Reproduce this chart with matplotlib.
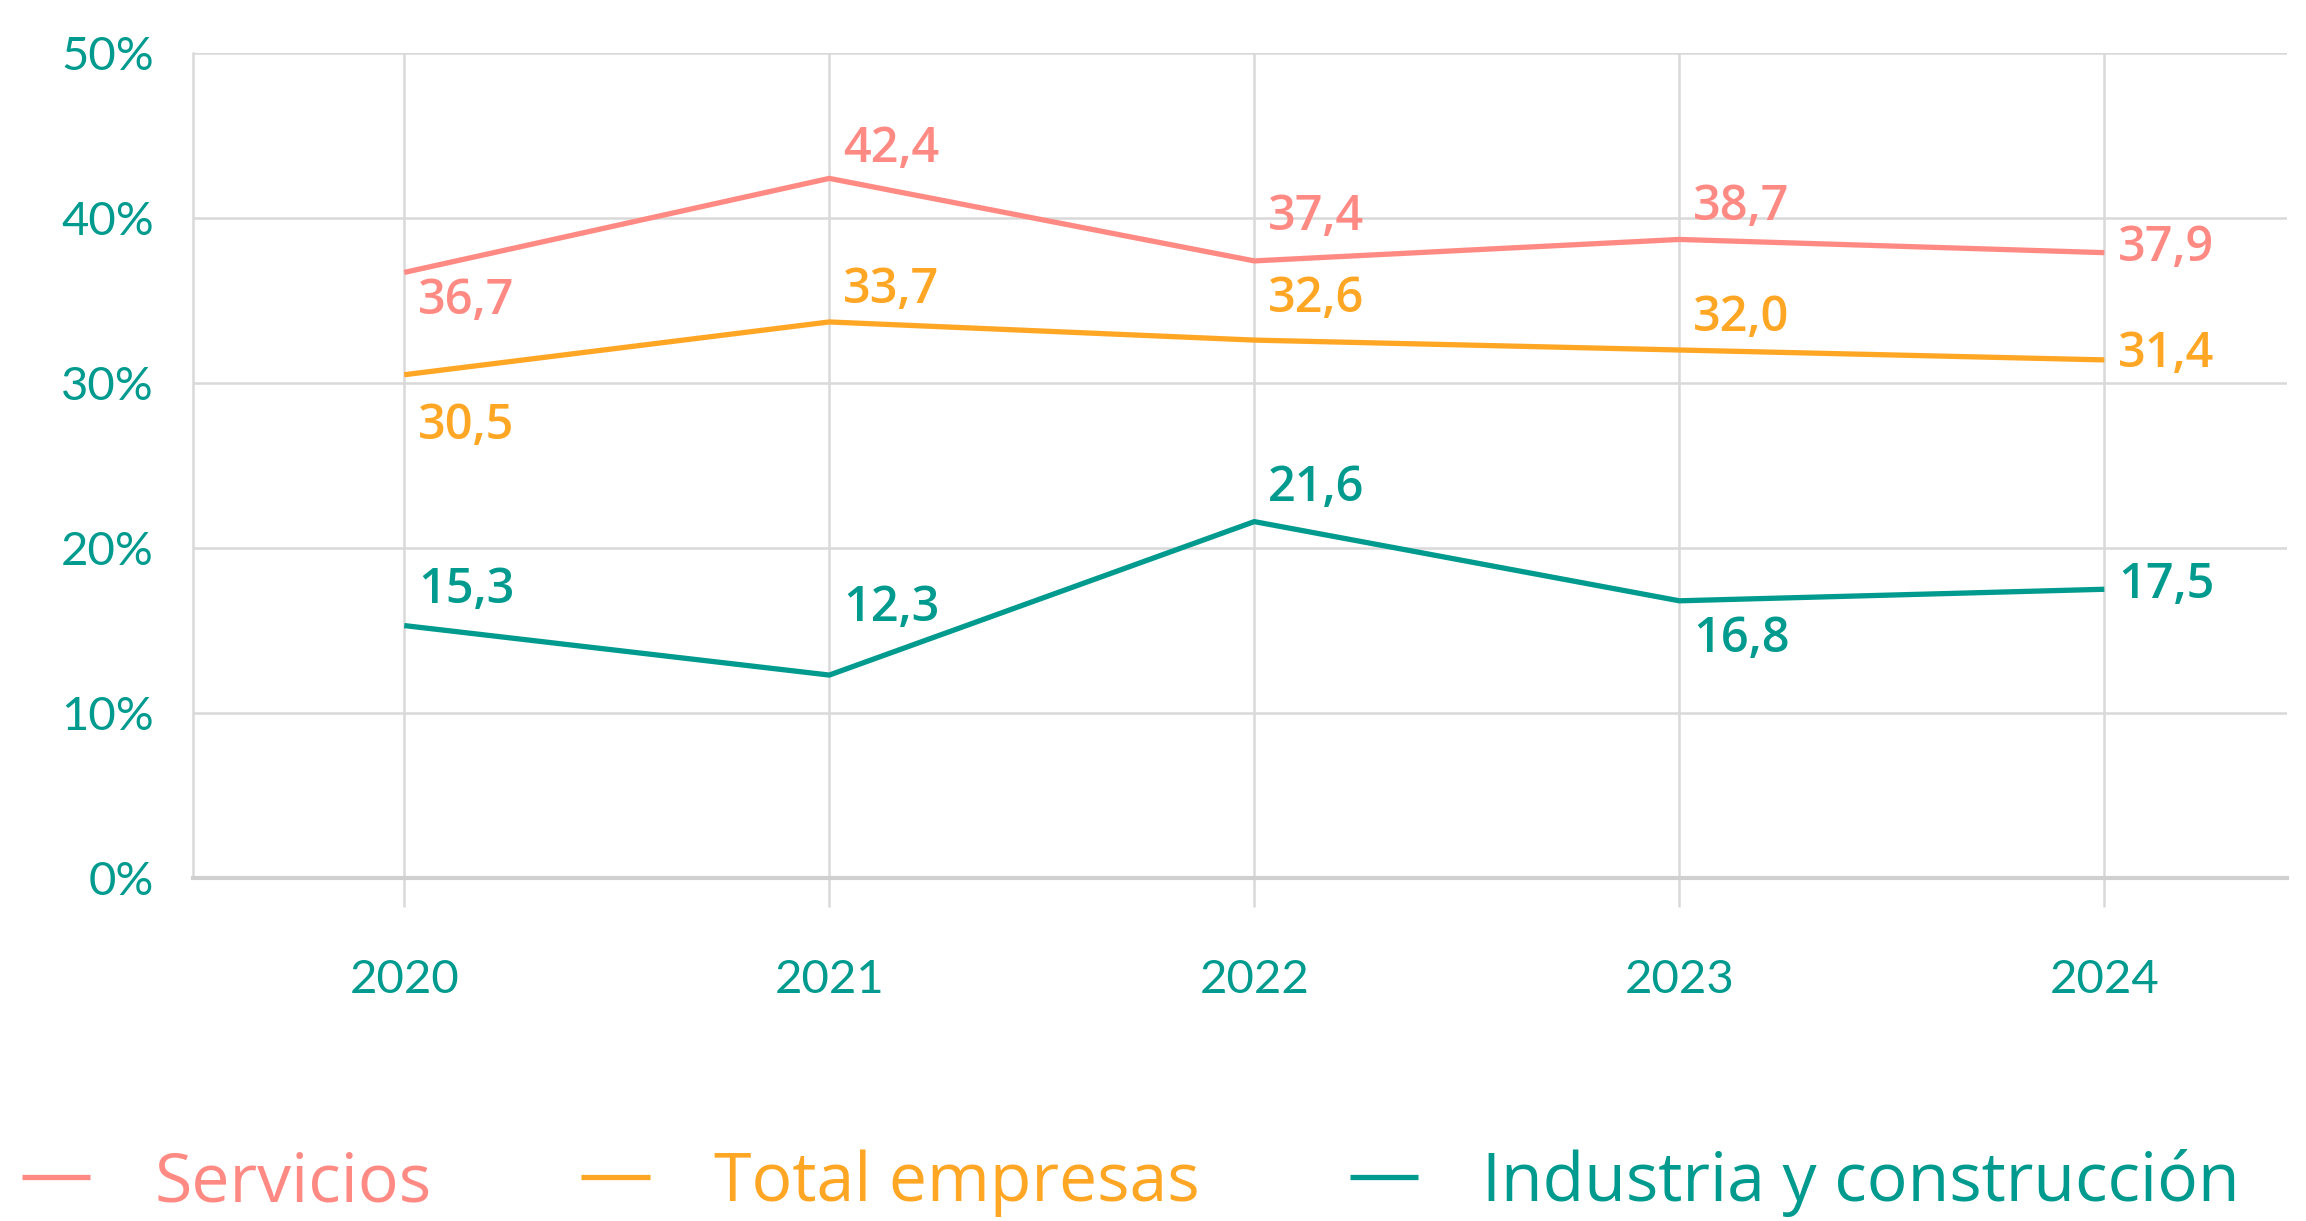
import matplotlib.pyplot as plt
import numpy as np

# datos del grafico
years = ['2020', '2021', '2022', '2023', '2024']
servicios = [36.7, 42.4, 37.4, 38.7, 37.9]
total_empresas = [30.5, 33.7, 32.6, 32.0, 31.4]
industria = [15.3, 12.3, 21.6, 16.8, 17.5]
y_ticks = [0, 10, 20, 30, 40, 50]

# desplazamiento vertical de cada etiqueta (puntos, positivo = hacia abajo)
dy_serv = [21, -21, -31, -23, -3]
dy_total = [37, -23, -29, -23, -4]
dy_ind = [-25, -48, -24, 28, -3]

C_SERV = '#FF8A84'
C_TOTAL = '#FFA624'
C_IND = '#009B8E'
C_GRID = '#D9D9D9'

plt.rcParams['font.family'] = ['Lato', 'DejaVu Sans']

fig = plt.figure(figsize=(23.06, 12.21), dpi=100)
ax = fig.add_axes([0.0837, 0.2809, 0.9918 - 0.0837, 0.9566 - 0.2809])

x = np.arange(len(years))
series = [(servicios, C_SERV, 'Servicios', dy_serv),
          (total_empresas, C_TOTAL, 'Total empresas', dy_total),
          (industria, C_IND, 'Industria y construcción', dy_ind)]

for vals, col, name, dys in series:
    ax.plot(x, vals, color=col, lw=3.8, label=name, solid_capstyle='butt', zorder=3)
    for xi, v, d in zip(x, vals, dys):
        txt = ('%.1f' % v).replace('.', ',')
        ax.annotate(txt, (xi, v), xytext=(10, -d), textcoords='offset points',
                    ha='left', va='center', color=col, fontsize=35,
                    fontweight='semibold', family=['Open Sans', 'DejaVu Sans'])

ax.set_xlim(-0.497, 4.43)
ax.set_ylim(0, 50)
ax.set_yticks(y_ticks)
ax.set_yticklabels(['%d%%' % t for t in y_ticks])
ax.set_xticks(x)
ax.set_xticklabels(years)

ax.grid(True, color=C_GRID, lw=1.8, zorder=0)
for s in ['top', 'right']:
    ax.spines[s].set_visible(False)
ax.spines['left'].set_color(C_GRID)
ax.spines['left'].set_linewidth(1.8)
ax.spines['bottom'].set_color('#D0D0D0')
ax.spines['bottom'].set_linewidth(3)

ax.tick_params(axis='x', length=21, width=1.8, color=C_GRID, pad=37,
               labelsize=34, labelcolor=C_IND)
ax.tick_params(axis='y', length=0, pad=28, labelsize=34, labelcolor=C_IND)

leg = fig.legend(loc='center left', bbox_to_anchor=(0.0095, 0.031), ncol=3,
                 frameon=False, handlelength=1.0, handletextpad=0.95,
                 columnspacing=2.2, borderpad=0, borderaxespad=0,
                 prop={'family': ['Open Sans', 'DejaVu Sans'], 'size': 49})
for txt, (vals, col, name, dys) in zip(leg.get_texts(), series):
    txt.set_color(col)
for h in leg.get_lines():
    h.set_linewidth(3.8)

fig.savefig('out.png', dpi=100)
